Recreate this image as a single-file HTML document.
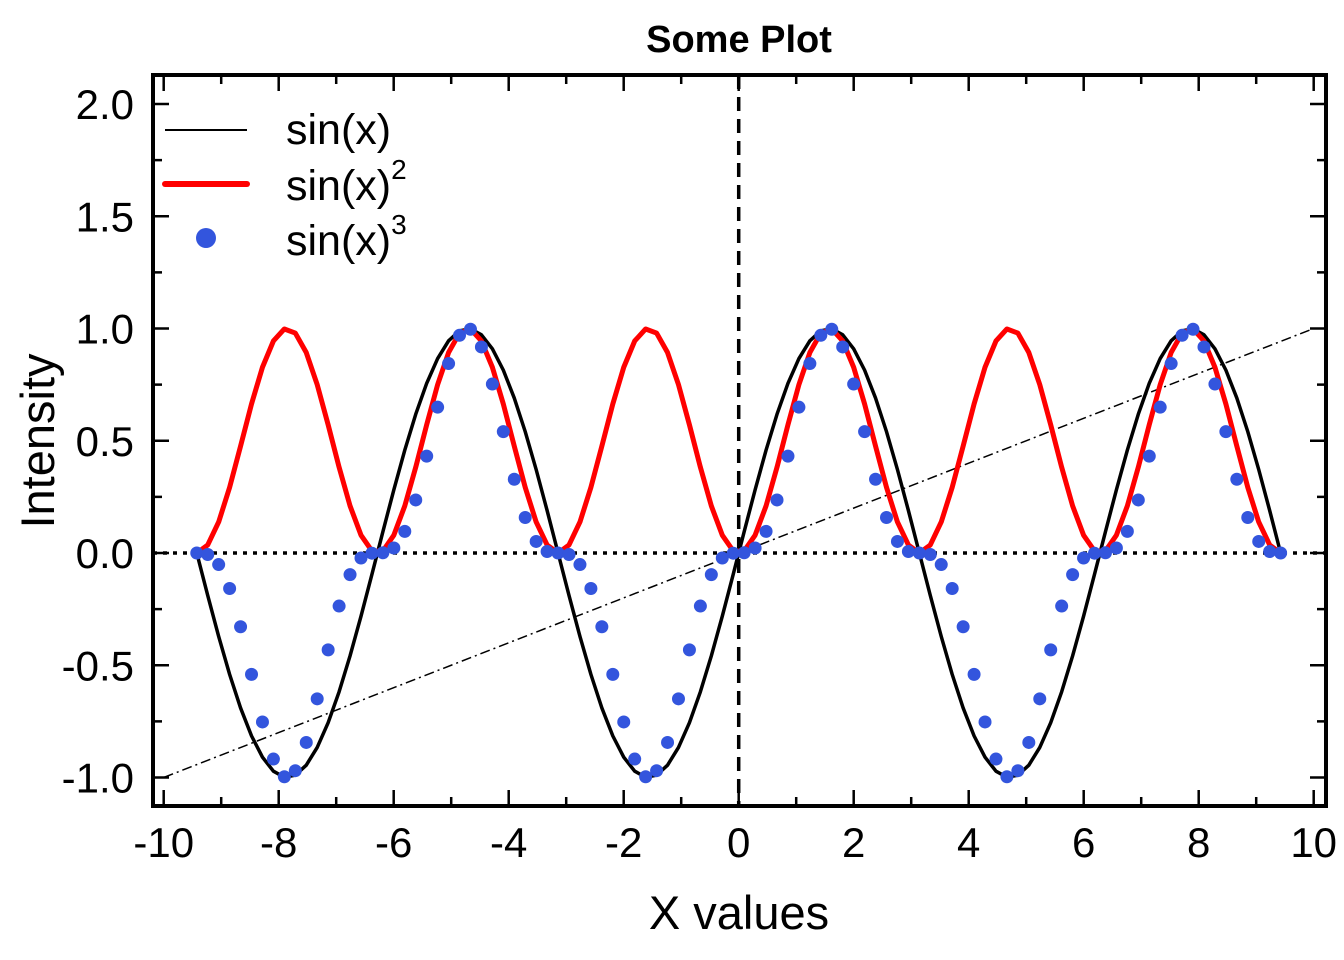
<!DOCTYPE html>
<html><head><meta charset="utf-8"><style>
html,body{margin:0;padding:0;background:#fff;}
svg{display:block;font-family:"Liberation Sans",Arial,sans-serif;}
</style></head><body>
<svg id="chart" width="1344" height="960" viewBox="0 0 1344 960">
<text x="739" y="52" text-anchor="middle" font-size="38" font-weight="bold">Some Plot</text>
<text x="739" y="929" text-anchor="middle" font-size="47">X values</text>
<text transform="translate(54,441) rotate(-90)" text-anchor="middle" font-size="47">Intensity</text>
<g id="grid"></g>
<g id="series"></g>
<rect x="153" y="75" width="1173" height="731" fill="none" stroke="#000" stroke-width="4"/>
<g id="axes"></g>
<g>
 <line x1="165" y1="130" x2="247" y2="130" stroke="#000" stroke-width="2"/>
 <text x="286" y="144" font-size="43">sin(x)</text>
 <line x1="165" y1="184" x2="247" y2="184" stroke="#f00" stroke-width="6" stroke-linecap="round"/>
 <text x="286" y="200" font-size="43">sin(x)<tspan dy="-21" font-size="28">2</tspan></text>
 <circle cx="206" cy="238" r="10" fill="#3355dd"/>
 <text x="286" y="255" font-size="43">sin(x)<tspan dy="-21" font-size="28">3</tspan></text>
</g>
</svg>
<script>
const xStart = -9.424778;
const xEnd = 9.424778;
const sinVals = [0,-0.1893,-0.3717,-0.5406,-0.6901,-0.8146,-0.9096,-0.9718,-0.9989,-0.9898,-0.9450,-0.8660,-0.7557,-0.6182,-0.4582,-0.2817,-0.0951,0.0951,0.2817,0.4582,0.6182,0.7557,0.8660,0.9450,0.9898,0.9989,0.9718,0.9096,0.8146,0.6901,0.5406,0.3717,0.1893,
0,-0.1893,-0.3717,-0.5406,-0.6901,-0.8146,-0.9096,-0.9718,-0.9989,-0.9898,-0.9450,-0.8660,-0.7557,-0.6182,-0.4582,-0.2817,-0.0951,0.0951,0.2817,0.4582,0.6182,0.7557,0.8660,0.9450,0.9898,0.9989,0.9718,0.9096,0.8146,0.6901,0.5406,0.3717,0.1893,
0,-0.1893,-0.3717,-0.5406,-0.6901,-0.8146,-0.9096,-0.9718,-0.9989,-0.9898,-0.9450,-0.8660,-0.7557,-0.6182,-0.4582,-0.2817,-0.0951,0.0951,0.2817,0.4582,0.6182,0.7557,0.8660,0.9450,0.9898,0.9989,0.9718,0.9096,0.8146,0.6901,0.5406,0.3717,0.1893,0];
const sin2Vals = [0,0.0358,0.1382,0.2922,0.4762,0.6636,0.8274,0.9444,0.9978,0.9797,0.8930,0.75,0.5711,0.3822,0.2099,0.0794,0.0090,0.0090,0.0794,0.2099,0.3822,0.5711,0.75,0.8930,0.9797,0.9978,0.9444,0.8274,0.6636,0.4762,0.2922,0.1382,0.0358,
0,0.0358,0.1382,0.2922,0.4762,0.6636,0.8274,0.9444,0.9978,0.9797,0.8930,0.75,0.5711,0.3822,0.2099,0.0794,0.0090,0.0090,0.0794,0.2099,0.3822,0.5711,0.75,0.8930,0.9797,0.9978,0.9444,0.8274,0.6636,0.4762,0.2922,0.1382,0.0358,
0,0.0358,0.1382,0.2922,0.4762,0.6636,0.8274,0.9444,0.9978,0.9797,0.8930,0.75,0.5711,0.3822,0.2099,0.0794,0.0090,0.0090,0.0794,0.2099,0.3822,0.5711,0.75,0.8930,0.9797,0.9978,0.9444,0.8274,0.6636,0.4762,0.2922,0.1382,0.0358,0];
const sin3Vals = [0,-0.0068,-0.0514,-0.1580,-0.3286,-0.5406,-0.7526,-0.9178,-0.9967,-0.9697,-0.8439,-0.6495,-0.4316,-0.2363,-0.0962,-0.0224,-0.0009,0.0009,0.0224,0.0962,0.2363,0.4316,0.6495,0.8439,0.9697,0.9967,0.9178,0.7526,0.5406,0.3286,0.1580,0.0514,0.0068,
0,-0.0068,-0.0514,-0.1580,-0.3286,-0.5406,-0.7526,-0.9178,-0.9967,-0.9697,-0.8439,-0.6495,-0.4316,-0.2363,-0.0962,-0.0224,-0.0009,0.0009,0.0224,0.0962,0.2363,0.4316,0.6495,0.8439,0.9697,0.9967,0.9178,0.7526,0.5406,0.3286,0.1580,0.0514,0.0068,
0,-0.0068,-0.0514,-0.1580,-0.3286,-0.5406,-0.7526,-0.9178,-0.9967,-0.9697,-0.8439,-0.6495,-0.4316,-0.2363,-0.0962,-0.0224,-0.0009,0.0009,0.0224,0.0962,0.2363,0.4316,0.6495,0.8439,0.9697,0.9967,0.9178,0.7526,0.5406,0.3286,0.1580,0.0514,0.0068,0];
const refLineX = [-10, 10];
const refLineY = [-1, 1];
const xTickLabels = [-10,-8,-6,-4,-2,0,2,4,6,8,10];
const yTickLabels = ["-1.0","-0.5","0.0","0.5","1.0","1.5","2.0"];

const NS = "http://www.w3.org/2000/svg";
const X = v => 738.7 + v * 57.5;
const Y = v => 553 - v * 224.5;
function mk(tag, attrs, parent){
  const e = document.createElementNS(NS, tag);
  for (const k in attrs) e.setAttribute(k, attrs[k]);
  parent.appendChild(e); return e;
}
const n = sinVals.length;
const xs = sinVals.map((_, i) => xStart + (xEnd - xStart) * i / (n - 1));
const grid = document.getElementById('grid');
const ser = document.getElementById('series');
const axes = document.getElementById('axes');

let l = mk('line', {x1:153, y1:Y(0), x2:1326, y2:Y(0), stroke:'#000', 'stroke-width':3.5, 'stroke-dasharray':'4 6'}, grid);


l = mk('line', {x1:X(0), y1:75, x2:X(0), y2:806, stroke:'#000', 'stroke-width':3.5, 'stroke-dasharray':'14 8'}, grid);



l = mk('line', {x1:X(refLineX[0]), y1:Y(refLineY[0]), x2:X(refLineX[1]), y2:Y(refLineY[1]), stroke:'#000', 'stroke-width':1.5, 'stroke-dasharray':'10 4 2 4'}, ser);



let p = mk('polyline', {points: xs.map((x,i)=>X(x)+','+Y(sinVals[i])).join(' '), fill:'none', stroke:'#000', 'stroke-width':3.5, 'stroke-linejoin':'round'}, ser);


p = mk('polyline', {points: xs.map((x,i)=>X(x)+','+Y(sin2Vals[i])).join(' '), fill:'none', stroke:'#f00', 'stroke-width':5, 'stroke-linejoin':'round'}, ser);


xs.forEach((x,i)=>{
  const c = mk('circle', {cx:X(x), cy:Y(sin3Vals[i]), r:6.5, fill:'#3355dd'}, ser);
  
  
});

for (let v = -10; v <= 10; v++) {
  const major = v % 2 === 0, len = major ? 16 : 9;
  mk('line', {x1:X(v), y1:806, x2:X(v), y2:806-len, stroke:'#000', 'stroke-width':2.5}, axes);
  mk('line', {x1:X(v), y1:75, x2:X(v), y2:75+len, stroke:'#000', 'stroke-width':2.5}, axes);
}
for (let k = -4; k <= 8; k++) {
  const v = k * 0.25, major = k % 2 === 0, len = major ? 16 : 9;
  mk('line', {x1:153, y1:Y(v), x2:153+len, y2:Y(v), stroke:'#000', 'stroke-width':2.5}, axes);
  mk('line', {x1:1326, y1:Y(v), x2:1326-len, y2:Y(v), stroke:'#000', 'stroke-width':2.5}, axes);
}
xTickLabels.forEach(v=>{
  const t = mk('text', {x:X(v), y:857, 'text-anchor':'middle', 'font-size':42}, axes);
  t.textContent = v;
  
  
});
yTickLabels.forEach(s=>{
  const t = mk('text', {x:134, y:Y(parseFloat(s))+15, 'text-anchor':'end', 'font-size':42}, axes);
  t.textContent = s;
  
  
});
</script>
</body></html>
